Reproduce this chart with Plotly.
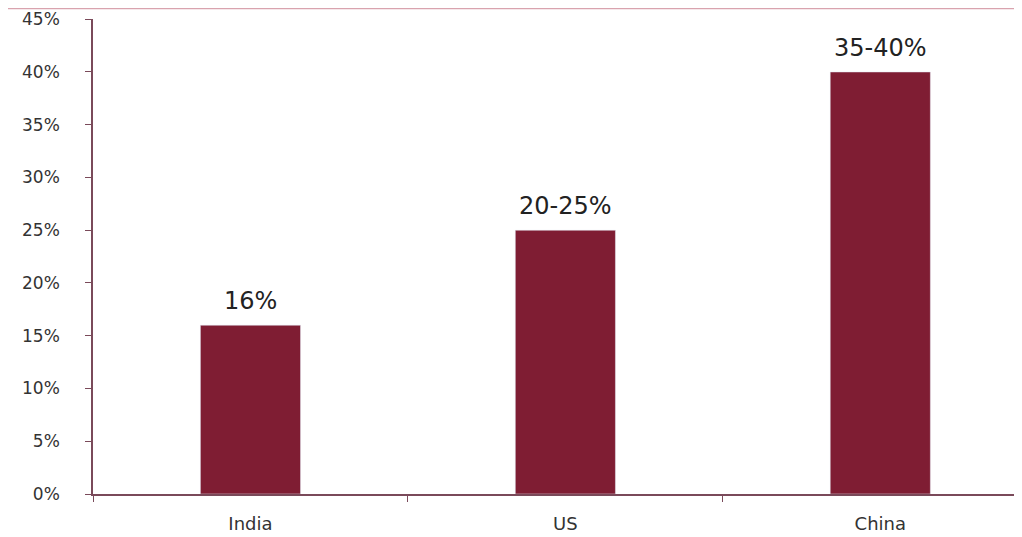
import plotly.graph_objects as go

categories = ["India", "US", "China"]
values = [16, 25, 40]
labels = ["16%", "20-25%", "35-40%"]
y_ticks = [0, 5, 10, 15, 20, 25, 30, 35, 40, 45]
y_tick_text = [f"{v}%" for v in y_ticks]

bar_color = "#7f1d33"
axis_color = "#7a4a5a"
font_family = "DejaVu Sans"

fig = go.Figure()
fig.add_trace(go.Bar(x=categories, y=values, marker_color=bar_color, width=0.318,
                     hoverinfo="skip"))

for c, v, t in zip(categories, values, labels):
    fig.add_annotation(x=c, y=v, text=t, showarrow=False, yanchor="bottom",
                       yshift=8, font=dict(size=24, color="#222222", family=font_family))

# thin rule across the top of the picture
fig.add_shape(type="line", xref="paper", yref="paper", x0=-0.2, x1=1.1,
              y0=1 + 10.5 / 475, y1=1 + 10.5 / 475,
              line=dict(color="#d9a3ae", width=1.5))

fig.update_layout(
    width=1014, height=529,
    margin=dict(l=85, r=0, t=11, b=43, autoexpand=False),
    paper_bgcolor="white", plot_bgcolor="white",
    showlegend=False,
    font=dict(family=font_family, size=17, color="#333333"),
    xaxis=dict(range=[-0.5, 2.45], showline=True, linecolor=axis_color, linewidth=1.5,
               ticks="outside", tickson="boundaries", ticklen=6, tickcolor=axis_color,
               showgrid=False, ticklabelstandoff=13, automargin=False,
               tickfont=dict(size=18, color="#333333")),
    yaxis=dict(range=[0, 45.02], tickvals=y_ticks, ticktext=y_tick_text, showline=True,
               linecolor=axis_color, linewidth=1.5, ticks="outside", ticklen=6,
               tickcolor=axis_color, showgrid=False, zeroline=False, automargin=False,
               ticklabelstandoff=22, tickfont=dict(size=17, color="#333333")),
)

fig.write_html("out.html")
